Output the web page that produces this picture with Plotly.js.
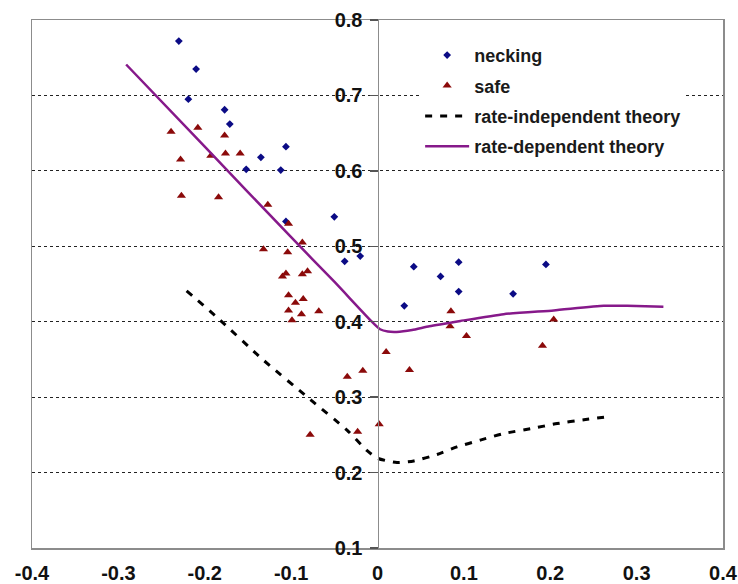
<!DOCTYPE html>
<html>
<head>
<meta charset="utf-8">
<script src="https://cdn.plot.ly/plotly-3.0.1.min.js"></script>
<style>html,body{margin:0;padding:0;background:#fff;}#chart{width:738px;height:584px;}</style>
</head>
<body>
<div id="chart"></div>
<script>
// necking points
const neckX = [-0.230,-0.210,-0.219,-0.177,-0.171,-0.135,-0.152,-0.106,-0.112,-0.106,-0.050,-0.038,-0.020,0.031,0.042,0.073,0.094,0.094,0.157,0.195];
const neckY = [0.772,0.735,0.695,0.681,0.662,0.618,0.602,0.632,0.601,0.533,0.539,0.480,0.487,0.421,0.473,0.460,0.479,0.440,0.437,0.476];
// safe points
const safeX = [-0.239,-0.208,-0.228,-0.227,-0.193,-0.177,-0.176,-0.159,-0.184,-0.127,-0.103,-0.087,-0.132,-0.104,-0.110,-0.106,-0.087,-0.081,-0.103,-0.095,-0.086,-0.103,-0.088,-0.099,-0.068,-0.035,-0.017,-0.078,-0.023,0.002,0.010,0.037,0.085,0.084,0.103,0.191,0.204];
const safeY = [0.652,0.657,0.615,0.567,0.620,0.647,0.623,0.623,0.565,0.555,0.530,0.505,0.496,0.492,0.460,0.464,0.463,0.467,0.435,0.425,0.430,0.415,0.410,0.402,0.414,0.327,0.335,0.250,0.254,0.264,0.360,0.336,0.414,0.394,0.381,0.368,0.403];
// rate-independent theory
const riX = [-0.221,-0.186,-0.132,-0.078,-0.035,-0.012,0.000,0.0225,0.042,0.069,0.092,0.119,0.146,0.177,0.208,0.239,0.266];
const riY = [0.441,0.406,0.349,0.297,0.256,0.229,0.219,0.2133,0.2154,0.224,0.234,0.243,0.2517,0.258,0.265,0.270,0.274];
// rate-dependent theory
const rdX = [-0.291,-0.200,-0.100,-0.050,-0.0065,0.003,0.012,0.022,0.040,0.060,0.096,0.146,0.204,0.262,0.289,0.331];
const rdY = [0.741,0.632,0.512,0.453,0.400,0.390,0.387,0.3865,0.389,0.394,0.401,0.410,0.415,0.421,0.421,0.420];

const xTicks = [-0.4,-0.3,-0.2,-0.1,0,0.1,0.2,0.3,0.4];
const xTickText = ['-0.4','-0.3','-0.2','-0.1','0','0.1','0.2','0.3','0.4'];
const yTicks = [0.1,0.2,0.3,0.4,0.5,0.6,0.7,0.8];
const yTickText = ['0.1','0.2','0.3','0.4','0.5','0.6','0.7','0.8'];

const FONT = 'Liberation Sans, Arial, sans-serif';

const traces = [
  {x: neckX, y: neckY, type: 'scatter', mode: 'markers', name: 'necking', legendgroup: 'a',
   marker: {symbol: 'diamond', size: 6, color: '#0b0b85'}},
  {x: safeX, y: safeY, type: 'scatter', mode: 'markers', name: 'safe', legendgroup: 'b',
   marker: {symbol: 'triangle-up', size: 8, color: '#8b0a0a'}},
  {x: riX, y: riY, type: 'scatter', mode: 'lines', name: 'rate-independent theory', legendgroup: 'c',
   line: {color: '#000', width: 3, dash: '7px,8px', shape: 'spline', smoothing: 0.6}},
  {x: rdX, y: rdY, type: 'scatter', mode: 'lines', name: 'rate-dependent theory', legendgroup: 'd',
   line: {color: '#86198a', width: 2.5, shape: 'spline', smoothing: 0.5}}
];

const layout = {
  width: 738, height: 584,
  margin: {l: 32, r: 15, t: 20, b: 36, pad: 0},
  paper_bgcolor: '#fff', plot_bgcolor: '#fff',
  showlegend: true,
  legend: {
    x: 0.5617, y: 0.968, xanchor: 'left', yanchor: 'top',
    bgcolor: '#fff', borderwidth: 0,
    font: {family: FONT, size: 18, weight: 'bold', color: '#1a1a1a'},
    tracegroupgap: 4, itemwidth: 44, traceorder: 'grouped'
  },
  xaxis: {
    range: [-0.4, 0.4], tickvals: xTicks, ticktext: xTickText,
    showgrid: false, zeroline: false, ticks: '',
    showline: true, mirror: true, linecolor: '#8c8c8c', linewidth: 1.5,
    tickfont: {family: FONT, size: 20, weight: 'bold', color: '#111'},
    ticklabelstandoff: 6
  },
  yaxis: {
    range: [0.1, 0.8], tickvals: yTicks, ticktext: yTickText,
    anchor: 'free', position: 0.5, side: 'left',
    showgrid: true, gridcolor: '#222', griddash: 'dot', gridwidth: 1.2,
    zeroline: false, showline: true, linecolor: '#8c8c8c', linewidth: 1.5,
    ticks: 'outside', ticklen: 8, tickcolor: '#555', tickwidth: 1.5,
    tickfont: {family: FONT, size: 20, weight: 'bold', color: '#111'},
    ticklabelstandoff: 3
  },
  yaxis2: {
    range: [0.1, 0.8], overlaying: 'y', anchor: 'x', side: 'left',
    showgrid: false, zeroline: false, showticklabels: false, ticks: '',
    showline: true, mirror: true, linecolor: '#8c8c8c', linewidth: 1.5
  }
};

// invisible trace to activate yaxis2 border lines
traces.push({x: [0], y: [0.5], yaxis: 'y2', type: 'scatter', mode: 'markers',
  marker: {opacity: 0}, showlegend: false, hoverinfo: 'skip'});

Plotly.newPlot('chart', traces, layout, {displayModeBar: false, staticPlot: true});
</script>
</body>
</html>
